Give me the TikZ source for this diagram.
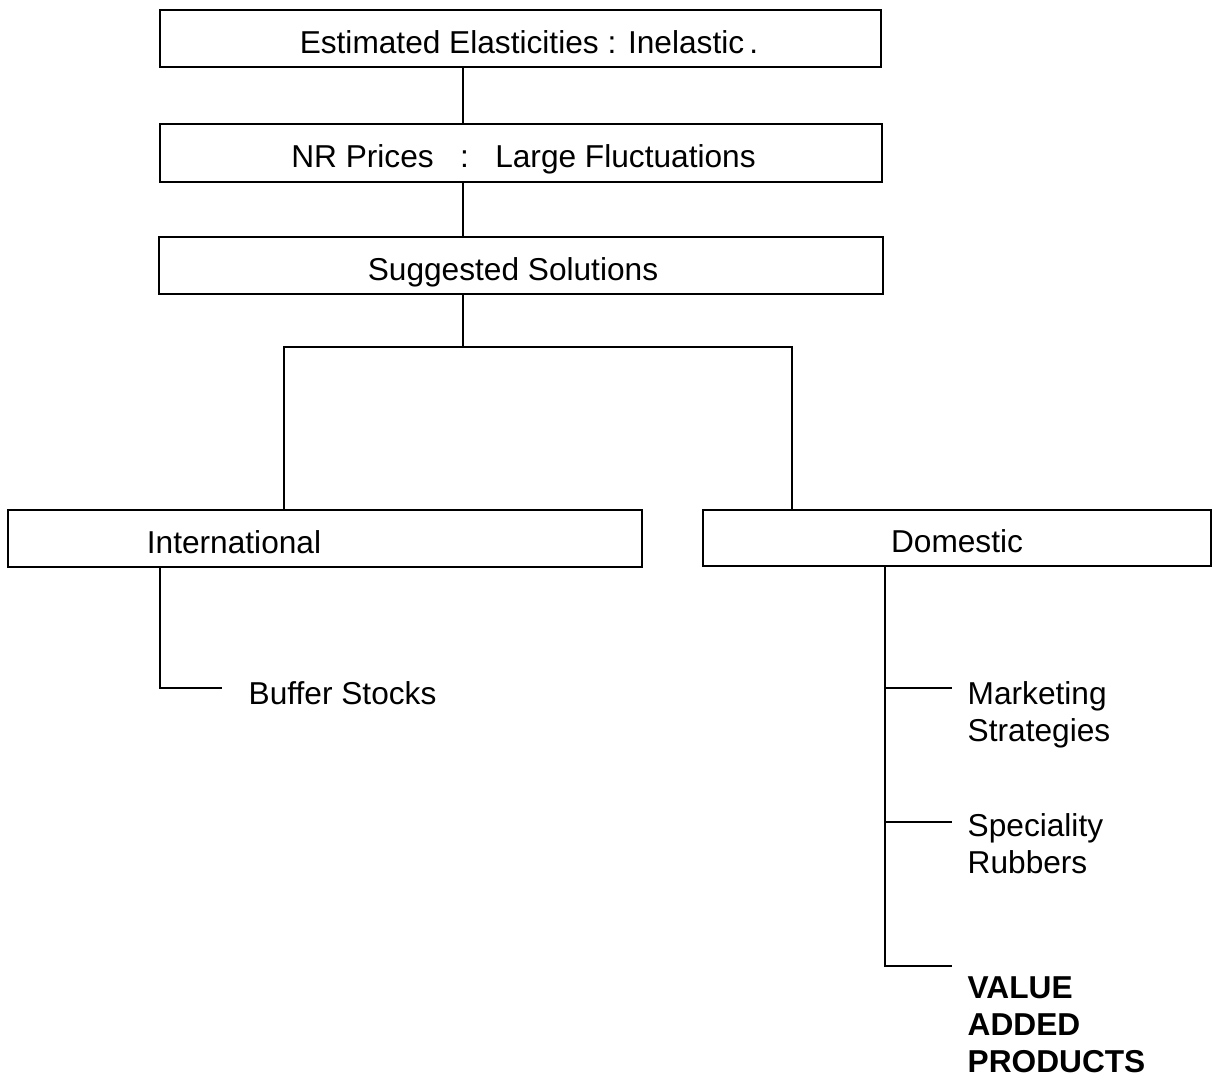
\documentclass[tikz,border=0pt]{standalone}
\usepackage{fontspec}
\setmainfont{Liberation Sans}
\tikzset{
  stage/.style={draw, line width=0.7pt, inner sep=0pt, minimum height=0.57cm,
    text height=8.4pt, text depth=0pt, font=\fontsize{9}{10.5}\selectfont},
  leaf/.style={inner sep=0pt, align=left, anchor=north west,
    font=\fontsize{9}{10.5}\selectfont},
  link/.style={line width=0.7pt}
}
\begin{document}
\begin{tikzpicture}[x=0.01cm, y=-0.01cm]
      \useasboundingbox (0,0) rectangle (1218,1081);
      % boxes
      \node[stage, minimum width=7.21cm] (est) at (520.5,38.5) {\kern0.17cm Estimated Elasticities : Inelastic\,.};
      \node[stage, minimum width=7.22cm, minimum height=0.58cm] (nr) at (521,153) {\kern0.05cm NR Prices\ \ \ :\ \ \ Large Fluctuations};
      \node[stage, minimum width=7.24cm] (sol) at (521,265.5) {Suggested Solutions\kern0.16cm};
      \node[stage, minimum width=6.34cm, inner xsep=1.39cm, text width=3.56cm, align=left] (intl) at (325,538.5) {International};
      \node[stage, minimum width=5.08cm, minimum height=0.56cm] (dom) at (957,538) {Domestic};
      % leaves
      \node[leaf] (buf) at (248,681) {Buffer Stocks};
      \node[leaf] (mkt) at (967,681) {Marketing\\Strategies};
      \node[leaf] (spec) at (967,813) {Speciality\\Rubbers};
      \node[leaf, font=\fontsize{9}{10.5}\selectfont\bfseries] (vap) at (967,976) {VALUE\\ADDED\\PRODUCTS};
      % joints
      \coordinate (fork) at (463,347);
      \coordinate (forkL) at (284,347);
      \coordinate (forkR) at (792,347);
      \coordinate (istem) at (160,688);
      \coordinate (iend) at (222,688);
      \coordinate (dstem) at (885,966);
      \coordinate (d1) at (952,688);
      \coordinate (d2) at (952,822);
      \coordinate (d3) at (952,966);
      \begin{scope}[link]
        \draw (est.south -| fork) -- (nr.north -| fork);
        \draw (nr.south -| fork) -- (sol.north -| fork);
        \draw (sol.south -| fork) -- (fork);
        \draw (intl.north -| forkL) -- (forkL) -- (forkR) -- (dom.north -| forkR);
        \draw (intl.south -| istem) -- (istem) -- (iend);
        \draw (dom.south -| dstem) -- (dstem) -- (d3);
        \draw (d1 -| dstem) -- (d1);
        \draw (d2 -| dstem) -- (d2);
      \end{scope}
\end{tikzpicture}
\end{document}
